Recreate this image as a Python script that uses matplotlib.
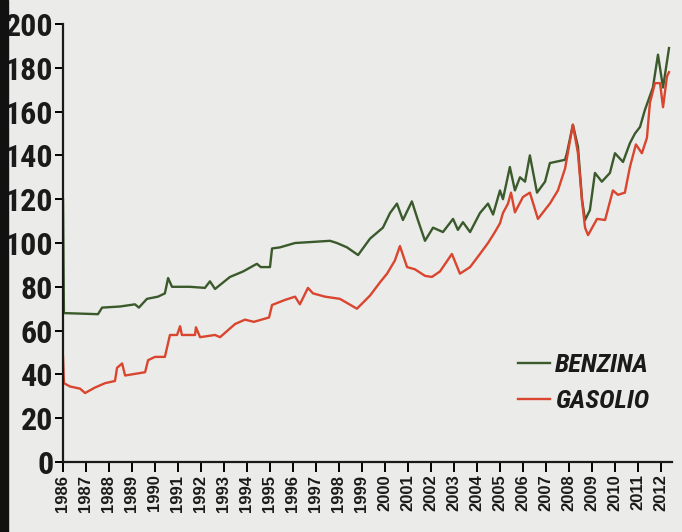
"""Prezzi benzina e gasolio 1986-2012 (ricostruzione del grafico di giornale)."""

import matplotlib

matplotlib.use("Agg")
import matplotlib.pyplot as plt  # noqa: E402
from matplotlib import font_manager  # noqa: E402
from matplotlib.patches import Rectangle  # noqa: E402

# --- dati (anno decimale, valore) ---
benzina_t = [
    1986.00, 1986.04, 1987.52, 1987.70, 1988.48, 1989.13, 1989.30, 1989.65,
    1990.13, 1990.43, 1990.57, 1990.74, 1991.52, 1992.17, 1992.39, 1992.61,
    1993.26, 1993.83, 1994.43, 1994.60, 1995.00, 1995.09, 1995.43, 1996.09,
    1996.87, 1997.61, 1997.91, 1998.35, 1998.83, 1999.35, 1999.91, 2000.22,
    2000.52, 2000.78, 2001.17, 2001.43, 2001.74, 2002.09, 2002.52, 2002.96,
    2003.17, 2003.39, 2003.70, 2004.13, 2004.48, 2004.70, 2005.00, 2005.13,
    2005.43, 2005.65, 2005.87, 2006.09, 2006.30, 2006.61, 2006.96, 2007.17,
    2007.83, 2007.91, 2008.17, 2008.39, 2008.57, 2008.70, 2008.91, 2009.13,
    2009.43, 2009.78, 2010.00, 2010.35, 2010.65, 2010.87, 2011.09, 2011.30,
    2011.65, 2011.87, 2012.09, 2012.22, 2012.35,
]
benzina_v = [
    120, 68, 67.5, 70.5, 71, 72, 70.5, 74.5,
    75.5, 77, 84, 80, 80, 79.5, 82.5, 79,
    84.5, 87, 90.5, 89, 89, 97.5, 98, 100,
    100.5, 101, 100, 98, 94.5, 102, 107, 113.7,
    118, 110.5, 119, 110.5, 101, 107, 105, 111,
    106, 109.5, 105, 113.7, 118, 113, 124, 120,
    134.7, 124, 130, 128, 140, 123, 128, 136.5,
    138, 141, 154, 144, 119.6, 110.5, 115, 132,
    128, 132, 141, 137, 145.6, 150, 153, 160.7,
    171, 186, 171, 180, 189,
]

gasolio_t = [
    1986.00, 1986.04, 1986.30, 1986.74, 1986.96, 1987.39, 1987.83, 1988.26,
    1988.35, 1988.57, 1988.70, 1989.57, 1989.70, 1990.00, 1990.43, 1990.65,
    1990.96, 1991.09, 1991.17, 1991.74, 1991.78, 1991.96, 1992.61, 1992.83,
    1993.48, 1993.91, 1994.30, 1994.96, 1995.09, 1995.65, 1996.09, 1996.30,
    1996.65, 1996.87, 1997.39, 1998.04, 1998.78, 1999.35, 1999.78, 2000.09,
    2000.43, 2000.65, 2000.96, 2001.30, 2001.74, 2002.04, 2002.39, 2002.91,
    2003.26, 2003.70, 2004.13, 2004.48, 2004.78, 2005.00, 2005.13, 2005.35,
    2005.48, 2005.65, 2006.00, 2006.30, 2006.65, 2007.17, 2007.52, 2007.83,
    2008.17, 2008.39, 2008.57, 2008.70, 2008.83, 2009.22, 2009.57, 2009.91,
    2010.13, 2010.43, 2010.65, 2010.91, 2011.17, 2011.39, 2011.52, 2011.74,
    2011.96, 2012.09, 2012.26, 2012.35,
]
gasolio_v = [
    48, 36, 34.5, 33.5, 31.5, 34, 36, 37,
    43, 45, 39.5, 41, 46.5, 48, 48, 58,
    58, 62, 58, 58, 61.5, 57, 58, 57,
    63, 65, 64, 66, 71.7, 74, 75.5, 72,
    79.5, 77, 75.5, 74.5, 70, 76, 82, 86,
    92, 98.6, 89, 88, 85, 84.5, 87, 95,
    86, 89, 95, 100, 105, 109, 113.7, 118,
    123, 114, 121, 123, 111, 118, 124, 134,
    154, 141, 119, 107, 103.6, 111, 110.5, 124,
    122, 123, 134.7, 145, 141, 148, 164, 173,
    173, 162, 176, 178,
]

years = list(range(1986, 2013))
yticks = list(range(0, 201, 20))


def narrow_font():
    """Cerca un carattere condensato tra quelli installati."""
    names = {f.name for f in font_manager.fontManager.ttflist}
    for n in ("Liberation Sans Narrow", "DejaVu Sans Condensed",
              "Roboto Condensed", "Open Sans Condensed"):
        if n in names:
            return n, "normal"
    cond = [f for f in font_manager.fontManager.ttflist
            if f.stretch not in ("normal", 500) and f.name == "DejaVu Sans"]
    if cond:
        return "DejaVu Sans", "condensed"
    return None, "normal"


def main() -> None:
    fam, stretch = narrow_font()
    fig = plt.figure(figsize=(6.82, 5.32), dpi=100, facecolor="#ebebe9")
    ax = fig.add_axes([63 / 682, 1 - 462 / 532, 609 / 682, 438 / 532])
    ax.set_facecolor("none")

    # striscia nera a sinistra (bordo della pagina)
    fig.patches.append(Rectangle((0, 0), 8 / 682, 1, transform=fig.transFigure,
                                 color="#111111", zorder=0))

    ax.plot(benzina_t, benzina_v, color="#3b5a2c", lw=1.7, label="BENZINA")
    ax.plot(gasolio_t, gasolio_v, color="#d9452e", lw=1.7, label="GASOLIO")

    ax.set_xlim(1986, 2012.48)
    ax.set_ylim(0, 200)
    for s in ("top", "right"):
        ax.spines[s].set_visible(False)
    for s in ("left", "bottom"):
        ax.spines[s].set_linewidth(1.6)
        ax.spines[s].set_color("#1a1a1a")

    if fam:
        ykw = dict(family=[fam, "DejaVu Sans"], fontstretch=stretch, fontsize=23)
        lkw = {"family": [fam, "DejaVu Sans"], "stretch": stretch, "size": 19}
    else:
        ykw = dict(family="DejaVu Sans", fontsize=19)
        lkw = {"family": "DejaVu Sans", "size": 15}

    ax.set_yticks(yticks)
    ax.set_yticklabels([str(v) for v in yticks], fontweight="heavy",
                       color="#1a1a1a", **ykw)
    ax.set_xticks(years)
    ax.set_xticklabels([str(y) for y in years], rotation=90,
                       family=["Liberation Sans", "DejaVu Sans"],
                       fontweight="bold", fontsize=12, color="#1a1a1a")
    ax.tick_params(axis="y", length=6, width=1.4, pad=1)
    ax.tick_params(axis="x", length=7, width=1.4, pad=2)

    leg = ax.legend(loc="upper left", bbox_to_anchor=(518 / 682, 1 - 353 / 532),
                    bbox_transform=fig.transFigure, frameon=False,
                    borderpad=0, borderaxespad=0, handlelength=1.2,
                    handletextpad=0.2, labelspacing=0.45,
                    prop=dict(weight="heavy", style="italic", **lkw))
    for t in leg.get_texts():
        t.set_color("#1a1a1a")

    fig.savefig("out.png", dpi=100, facecolor=fig.get_facecolor())


if __name__ == "__main__":
    main()
